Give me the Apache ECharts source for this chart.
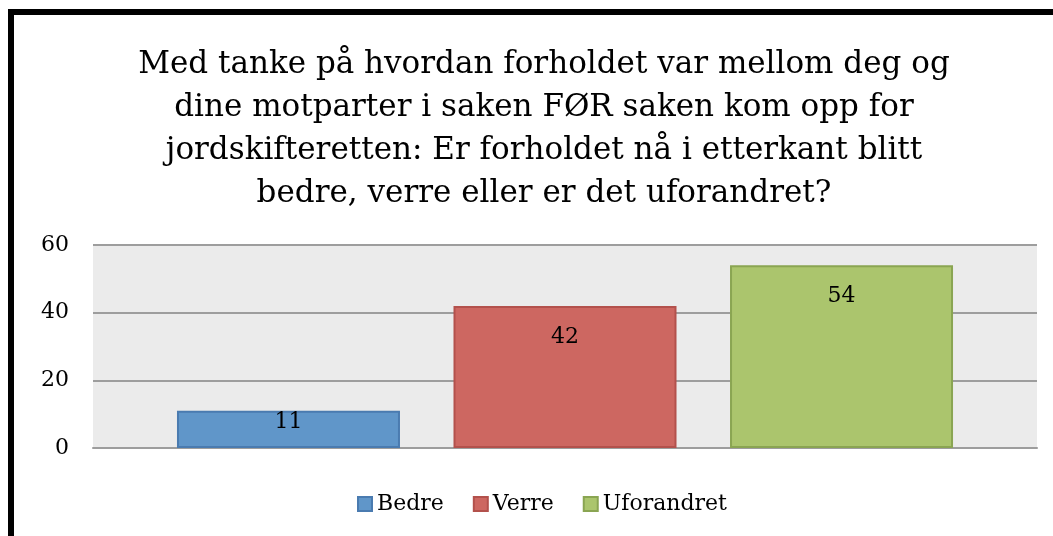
<!DOCTYPE html>
<html><head><meta charset="utf-8">
<script src="https://cdn.jsdelivr.net/npm/echarts@6/dist/echarts.min.js"></script>
<style>html,body{margin:0;padding:0;background:#fff}#c{width:1053px;height:536px}</style>
</head><body><div id="c"></div>
<script>
const titleLines = [
  "Med tanke på hvordan forholdet var mellom deg og",
  "dine motparter i saken FØR saken kom opp for",
  "jordskifteretten: Er forholdet nå i etterkant blitt",
  "bedre, verre eller er det uforandret?"
];
const categories = [""];
const seriesNames = ["Bedre", "Verre", "Uforandret"];
const seriesValues = [[11], [42], [54]];
const yTicks = { min: 0, max: 60, interval: 20 };
const colors = ["#6096c9", "#cd6761", "#abc56d"];
const borders = ["#4a7bb0", "#b3514c", "#8aa552"];
const labelDistances = [0, 20, 20];
const FONT = "'DejaVu Serif', 'Liberation Serif', serif";

const chart = echarts.init(document.getElementById('c'), null, {renderer: 'canvas'});
chart.setOption({
  animation: false,
  textStyle: { fontFamily: FONT },
  title: {
    text: titleLines.join("\n"),
    left: 539, top: 38, textAlign: 'center',
    textStyle: { fontFamily: FONT, fontSize: 31, fontWeight: 'normal', color: '#000', lineHeight: 43 }
  },
  legend: {
    data: seriesNames, left: 357, top: 493, itemWidth: 14, itemHeight: 14, itemGap: 29,
    padding: 0,
    textStyle: { fontFamily: FONT, fontSize: 22, color: '#000' },
    icon: 'rect'
  },
  grid: { left: 93, right: 16, top: 245, bottom: 88, backgroundColor: '#ebebeb', show: true, borderWidth: 0 },
  xAxis: {
    type: 'category', data: categories,
    axisLine: { show: true, lineStyle: { color: '#9d9d9d', width: 2 } },
    axisTick: { show: false }, axisLabel: { show: false }
  },
  yAxis: {
    type: 'value', min: yTicks.min, max: yTicks.max, interval: yTicks.interval,
    axisLine: { show: false }, axisTick: { show: false },
    axisLabel: { fontFamily: FONT, fontSize: 22, color: '#000', margin: 24 },
    splitLine: { lineStyle: { color: '#9d9d9d', width: 2 } }
  },
  series: seriesNames.map((n, i) => ({
    name: n, type: 'bar', data: seriesValues[i], barWidth: 223, barGap: '24%',
    itemStyle: { color: colors[i], borderColor: borders[i], borderWidth: 2 },
    label: { show: true, position: 'insideTop', distance: labelDistances[i], fontFamily: FONT, fontSize: 22, color: '#000' }
  })),
  graphic: [{
    type: 'rect', shape: { x: 11, y: 12, width: 1100, height: 600 },
    style: { fill: 'none', stroke: '#000', lineWidth: 6 }, z: 100
  }]
});
</script></body></html>
